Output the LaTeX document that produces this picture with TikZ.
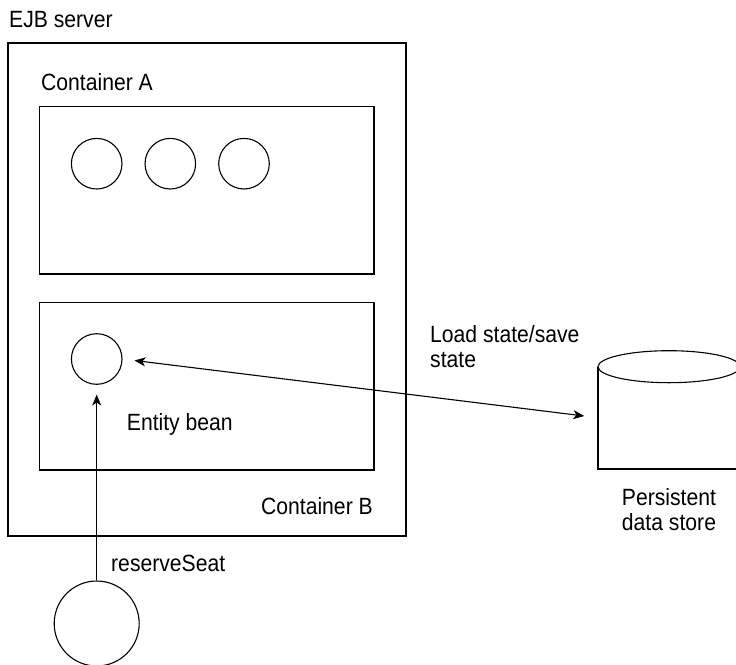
\documentclass[tikz,border=0pt]{standalone}
\usepackage{fontspec}
\setmainfont{Liberation Sans}[FakeStretch=0.9]
\usetikzlibrary{arrows.meta}
\begin{document}
\begin{tikzpicture}[x=1pt,y=-1pt,
  line/.style={line width=1.1pt,draw=black},
  box/.style={line,rectangle,inner sep=0pt},
  bean/.style={line,circle,inner sep=0pt,minimum size=50.6pt},
  lbl/.style={inner sep=0pt,font=\fontsize{23.5}{25.5}\selectfont},
  arr/.style={line,-{Stealth[length=11pt,width=9pt,inset=3pt]}},
  darr/.style={line,{Stealth[length=11pt,width=9pt,inset=3pt]}-{Stealth[length=11pt,width=9pt,inset=3pt]}}]
\useasboundingbox (0,0) rectangle (736,664);
\clip (0,0) rectangle (736,664);
% EJB server
\node[box,minimum width=398pt,minimum height=493pt] (server) at (207,289.5) {};
\node[lbl,anchor=base west] (serverlbl) at (9,27.3) {EJB server};
% Container A
\node[box,minimum width=334.3pt,minimum height=167.3pt] (contA) at (206.85,190.35) {};
\node[lbl,anchor=base west] (contAlbl) at (41,90.7) {Container A};
\node[bean] (a1) at (96.7,163.7) {};
\node[bean] (a2) at (170.3,163.7) {};
\node[bean] (a3) at (244,163.7) {};
% Container B
\node[box,minimum width=334.5pt,minimum height=167.7pt] (contB) at (206.75,386.15) {};
\node[lbl,anchor=base east] (contBlbl) at (373,514) {Container B};
\node[bean] (entity) at (96.7,359) {};
\node[lbl,anchor=base west] (entitylbl) at (126.7,430) {Entity bean};
% client
\node[line,circle,inner sep=0pt,minimum size=85pt] (client) at (96.7,623.5) {};
\node[lbl,anchor=base west] (reslbl) at (111,571) {reserveSeat};
% data store
\draw[line] (669,366.7) ellipse [x radius=71,y radius=16];
\draw[line] (598,366.7) -- (598,469) -- (740,469) -- (740,366.7);
\coordinate (store) at (598,417.7);
\node[lbl,align=center,anchor=base] (storelbl) at (669,530.7) {Persistent\\[0.2pt]data store};
\node[lbl,align=left,anchor=base west] (loadlbl) at (430,367.7) {Load state/save\\[-0.1pt]state};
% connectors
\draw[arr,shorten >=9.7pt] (client.north) -- (entity.south);
\draw[darr,shorten <=12pt,shorten >=13.8pt] (entity.east) -- (store);
\end{tikzpicture}
\end{document}
